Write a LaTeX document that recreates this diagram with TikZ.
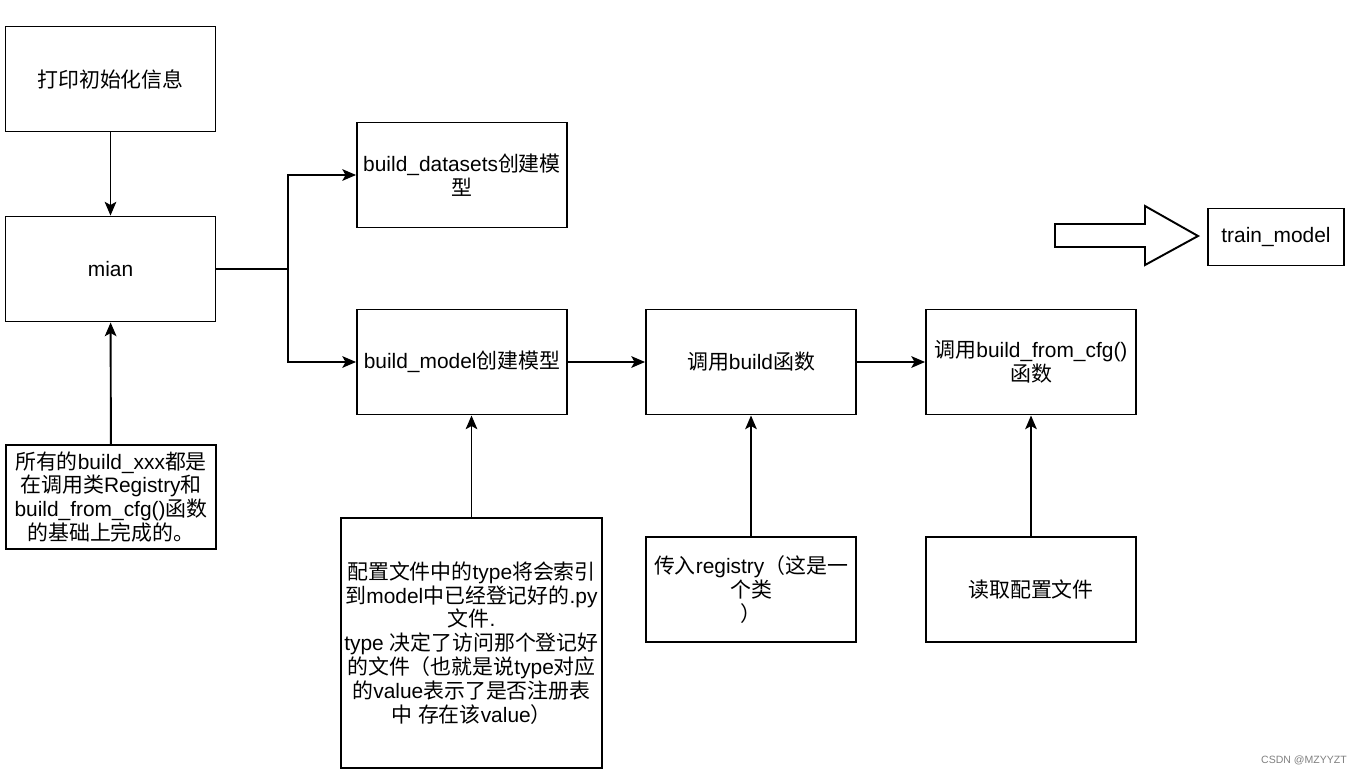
\documentclass[tikz,border=0pt]{standalone}
\usepackage{fontspec}
\setmainfont{Liberation Sans}
\newfontfamily\cjk{Noto Sans CJK SC}
\newcommand\zh[1]{{\cjk #1}}
\usetikzlibrary{arrows.meta}

\begin{document}
\begin{tikzpicture}[x=0.02cm, y=-0.02cm]
        \tikzset{box/.style={draw, line width=1.1pt, minimum width=4.2cm, minimum height=2.1cm,
                        align=center, inner sep=1pt, font=\fontsize{11.9}{13.6}\selectfont},
                link/.style={-{Stealth[length=7.8pt, width=6.6pt, inset=1.8pt]}, line width=1.1pt}}
        \useasboundingbox (0,0) rectangle (1364,775);
        % left column
        \node[box] (init) at (110.5,79) {\zh{打印初始化信息}};
        \node[box] (mian) at (110.5,269) {mian};
        \node[box, minimum height=2.08cm] (note) at (111,497) {\zh{所有的}build\_xxx\zh{都是}\\
                \zh{在调用类}Registry\zh{和}\\ build\_from\_cfg()\zh{函数}\\ \zh{的基础上完成的。}};
        % main row
        \node[box] (datasets) at (462,175) {build\_datasets\zh{创建模}\\ \zh{型}};
        \node[box] (model) at (462,362) {build\_model\zh{创建模型}};
        \node[box] (build) at (751,362) {\zh{调用}build\zh{函数}};
        \node[box] (cfg) at (1031,362) {\zh{调用}build\_from\_cfg()\\ \zh{函数}};
        % inputs
        \node[box, minimum width=5.22cm, minimum height=5cm] (config) at (471.5,643)
                {\zh{配置文件中的}type\zh{将会索引}\\ \zh{到}model\zh{中已经登记好的}.py\\
                \zh{文件}.\\ type \zh{决定了访问那个登记好}\\ \zh{的文件（也就是说}type\zh{对应}\\
                \zh{的}value\zh{表示了是否注册表}\\ \zh{中} \zh{存在该}value\zh{）}};
        \node[box] (registry) at (751,589.5) {\zh{传入}registry\zh{（这是一}\\ \zh{个类}\\ \zh{）}};
        \node[box] (read) at (1031,589.5) {\zh{读取配置文件}};
        % train
        \draw[line width=1.1pt] (1055,224) -- (1145,224) -- (1145,206) -- (1198,236)
                -- (1145,265) -- (1145,247) -- (1055,247) -- cycle;
        \node[box, minimum width=2.72cm, minimum height=1.14cm] (train) at (1276,237) {train\_model};
        \node[text=gray, anchor=east, font=\fontsize{6}{7}\selectfont] (mark) at (1353,760) {CSDN @MZYYZT};
        % connectors
        \draw[link] (init) -- (mian);
        \draw[link] (note) -- (mian);
        \draw[link] (mian.east) -- ++(72,0) |- (datasets.west);
        \draw[link] (mian.east) -- ++(72,0) |- (model.west);
        \draw[link] (model) -- (build);
        \draw[link] (build) -- (cfg);
        \draw[link] (config.north) -- (config.north |- model.south);
        \draw[link] (registry) -- (build);
        \draw[link] (read) -- (cfg);
\end{tikzpicture}
\end{document}
